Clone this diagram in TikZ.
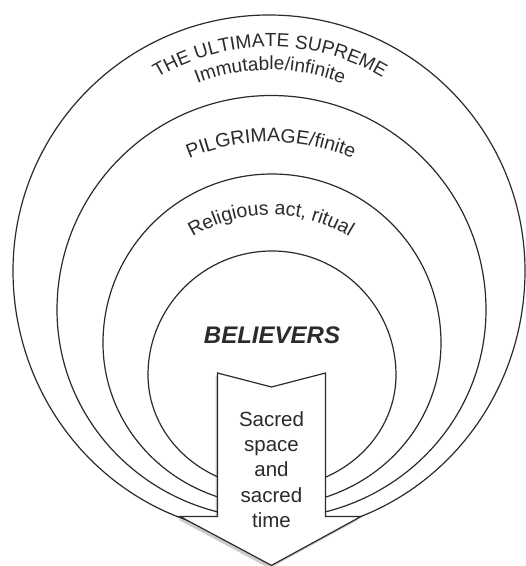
\documentclass[tikz,border=0pt]{standalone}
\usepackage{fontspec}
\setmainfont{Liberation Sans}
\usetikzlibrary{decorations.text,shadows}
\definecolor{ink}{HTML}{2B2B2B}
\newcommand\curvfont{\fontsize{19}{22}\selectfont\color{ink}}
\newcommand\curvfontb{\fontsize{19.5}{22}\selectfont\color{ink}}
\begin{document}
\begin{tikzpicture}[x=1pt,y=1pt,
  ring/.style={draw=ink,line width=1.2pt},
  arrowshape/.style={draw=ink,line width=1.2pt,fill=white,line join=miter,
    drop shadow={shadow xshift=-2pt,shadow yshift=-3pt,opacity=0.2,fill=black}},
  curved/.style={decorate,decoration={text along path,text align=center,text={#1}}},
  lbl/.style={text=ink,inner sep=0pt}]
\fill[white] (0,0) rectangle (526,566);
\useasboundingbox (0,0) rectangle (526,566);

% rings (upper half circular, lower half slightly squashed)
\coordinate (c1) at (269,295);
\coordinate (c2) at (271.5,256);
\coordinate (c3) at (272,223);
\coordinate (c4) at (272,191);

\draw[ring] (c1) ++(-256,0) arc[start angle=180,end angle=0,radius=256]
  arc[start angle=0,end angle=-71,x radius=256,y radius=263];
\draw[ring] (c1) ++(-256,0) arc[start angle=180,end angle=252,x radius=256,y radius=263];

\draw[ring] (c2) ++(-214.5,0) arc[start angle=180,end angle=0,radius=214.5]
  arc[start angle=0,end angle=-78,x radius=214.5,y radius=208.6];
\draw[ring] (c2) ++(-214.5,0) arc[start angle=180,end angle=258,x radius=214.5,y radius=208.6];

\draw[ring] (c3) ++(-169,0) arc[start angle=180,end angle=0,radius=169]
  arc[start angle=0,end angle=-74,x radius=169,y radius=162.5];
\draw[ring] (c3) ++(-169,0) arc[start angle=180,end angle=254,x radius=169,y radius=162.5];

\draw[ring] (c4) ++(-124,0) arc[start angle=180,end angle=0,radius=124]
  arc[start angle=0,end angle=-67,x radius=124,y radius=113.3];
\draw[ring] (c4) ++(-124,0) arc[start angle=180,end angle=247,x radius=124,y radius=113.3];

% curved labels
\path[curved={|\curvfont|THE ULTIMATE SUPREME}] (270,299) ++(160:220) arc[start angle=160,end angle=20,radius=220];
\path[curved={|\curvfont|Immutable/infinite}] (270,296) ++(160:200) arc[start angle=160,end angle=20,radius=200];
\path[curved={|\curvfontb|PILGRIMAGE/finite}] (271,214) ++(160:210) arc[start angle=160,end angle=20,radius=210];
\path[curved={|\curvfontb|Religious act, ritual}] (271,201) ++(160:150) arc[start angle=160,end angle=20,radius=150];

% arrow
\coordinate (a1) at (217.5,193);
\coordinate (a2) at (271.5,179);
\coordinate (a3) at (325.5,193);
\coordinate (a4) at (325.5,49.5);
\coordinate (a5) at (361,49.5);
\coordinate (a6) at (271.5,0.6);
\coordinate (a7) at (180,49.5);
\coordinate (a8) at (217.5,49.5);
\draw[arrowshape] (a1) -- (a2) -- (a3) -- (a4) -- (a5) -- (a6) -- (a7) -- (a8) -- cycle;

\node[lbl,font=\fontsize{24}{28}\selectfont\bfseries\itshape] (believers) at (272,231) {BELIEVERS};
\node[lbl,align=center,font=\fontsize{20.5}{25.3}\selectfont] (sacred) at (271.5,96.5) {Sacred\\space\\and\\sacred\\time};
\end{tikzpicture}
\end{document}
